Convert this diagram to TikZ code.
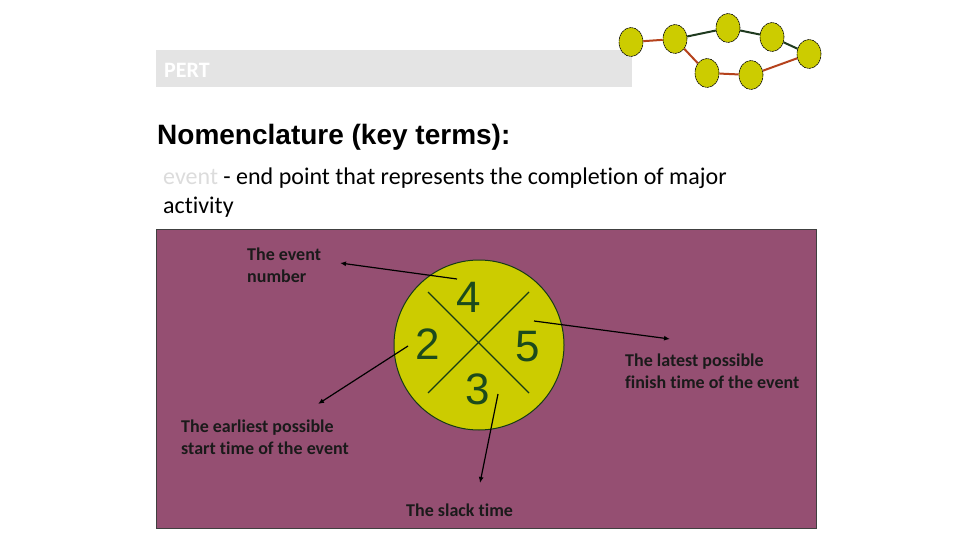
\documentclass[tikz,border=0pt]{standalone}
\usepackage{fontspec}
\setmainfont[Ligatures=NoCommon]{Carlito}
\newfontfamily\arialfont{Liberation Sans}
\usetikzlibrary{arrows.meta, shapes.geometric, positioning, calc}
\definecolor{pertgray}{HTML}{E4E4E4}
\definecolor{eventgray}{HTML}{DCDCDC}
\definecolor{boardplum}{HTML}{954F72}
\definecolor{eventyellow}{HTML}{CCCC00}
\definecolor{digitgreen}{HTML}{1C4A1C}
\definecolor{pathred}{HTML}{B5421C}
\definecolor{pathgreen}{HTML}{1F3A1F}
\definecolor{labelink}{HTML}{1A1A1A}

\tikzset{
  netnode/.style={ellipse, draw=black, line width=0.6pt, dash pattern=on 2pt off 0.6pt, fill=eventyellow, minimum width=24, minimum height=29, inner sep=0pt},
  netred/.style={draw=pathred, line width=2pt},
  netgreen/.style={draw=pathgreen, line width=2pt},
  digit/.style={font=\arialfont\fontsize{44}{44}\selectfont, text=digitgreen, inner sep=0pt},
  callout/.style={font=\fontsize{18}{22}\selectfont\bfseries, text=labelink, align=left, anchor=west, inner sep=0pt},
  pointer/.style={draw=black, line width=1.2pt, -{Latex[length=6pt,width=5pt]}}
}

\begin{document}
\begin{tikzpicture}[x=1pt, y=-1pt]
  \useasboundingbox (0,0) rectangle (960,540);
  % Barra de titulo
  \fill[pertgray] (156,50) rectangle (632,87);
  \node[font=\fontsize{22}{24}\selectfont\bfseries, text=white, anchor=west, inner sep=0pt] (pert) at (164,70) {PERT};
  % Red de eventos
  \node[netnode] (n1) at (631,42) {};
  \node[netnode] (n2) at (675,39) {};
  \node[netnode] (n3) at (728,28) {};
  \node[netnode] (n4) at (772,37) {};
  \node[netnode] (n5) at (809,54) {};
  \node[netnode] (n6) at (707,73) {};
  \node[netnode] (n7) at (751,75) {};
  \draw[netred] (n1) -- (n2);
  \draw[netgreen] (n2) -- (n3);
  \draw[netgreen] (n3) -- (n4);
  \draw[netgreen] (n4) -- (n5);
  \draw[netred] (n2) -- (n6);
  \draw[netred] (n6) -- (n7);
  \draw[netred] (n7) -- (n5);
  % Encabezado
  \node[font=\arialfont\fontsize{28}{32}\selectfont\bfseries, anchor=base west, inner sep=0pt] (head) at (157,145) {Nomenclature (key terms):};
  \node[font=\fontsize{24}{29}\selectfont, anchor=base west, inner sep=0pt] (descA) at (163,184) {\textcolor{eventgray}{event} - end point that represents the completion of major};
  \node[font=\fontsize{24}{29}\selectfont, anchor=base west, inner sep=0pt] (descB) at (163,213) {activity};
  % Panel
  \draw[fill=boardplum, draw=black!75, line width=0.8pt] (156,229) rectangle (816,528);
  % Evento
  \node[circle, fill=eventyellow, draw=digitgreen!80!black, line width=1pt, minimum size=170, inner sep=0pt] (ev) at (479,345) {};
  \draw[digitgreen!80!black, line width=1.2pt] (428,292) -- (529,393);
  \draw[digitgreen!80!black, line width=1.2pt] (529,292) -- (428,393);
  \node[digit] (d4) at (469,297) {4};
  \node[digit] (d2) at (428,344) {2};
  \node[digit] (d5) at (528,347) {5};
  \node[digit] (d3) at (478,389) {3};
  % Etiquetas
  \node[callout] (lblNum) at (247,265) {The event\\number};
  \node[callout] (lblLate) at (625,371) {The latest possible\\finish time of the event};
  \node[callout] (lblEarly) at (181,437) {The earliest possible\\start time of the event};
  \node[callout] (lblSlack) at (406,510) {The slack time};
  % Flechas
  \coordinate (tNum) at (457,279);
  \coordinate (hNum) at (340,263);
  \coordinate (tLate) at (534,321);
  \coordinate (hLate) at (670,339);
  \coordinate (tEarly) at (408,346);
  \coordinate (hEarly) at (318,404);
  \coordinate (tSlack) at (498,394);
  \coordinate (hSlack) at (480,483);
  \draw[pointer] (tNum) -- (hNum);
  \draw[pointer] (tLate) -- (hLate);
  \draw[pointer] (tEarly) -- (hEarly);
  \draw[pointer] (tSlack) -- (hSlack);
\end{tikzpicture}
\end{document}
